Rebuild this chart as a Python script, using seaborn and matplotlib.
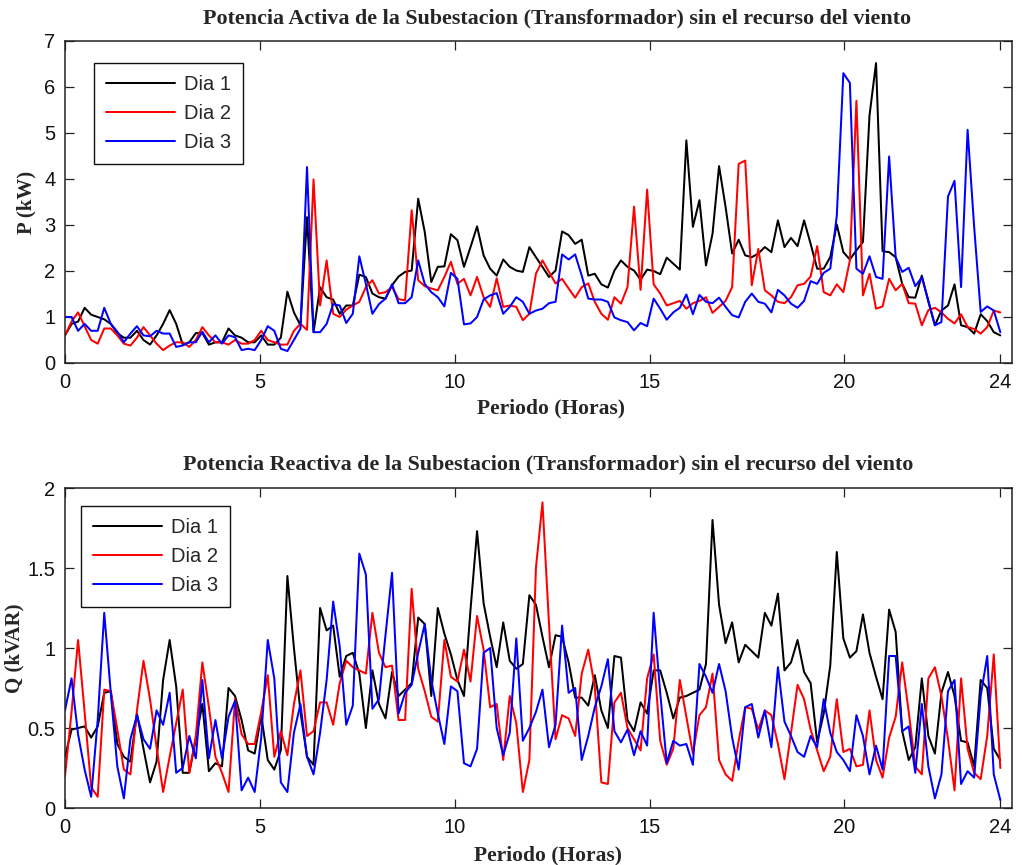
import numpy as np
import pandas as pd
import matplotlib
matplotlib.use("Agg")
import matplotlib.pyplot as plt
import seaborn as sns

# 144 samples across the day (hours)
horas = np.linspace(0, 24, 144)
dias = ["Dia 1", "Dia 2", "Dia 3"]
colores = {"Dia 1": "#000000", "Dia 2": "#ff0000", "Dia 3": "#0000ff"}

# Active power of the substation, kW
p_dia1 = [0.6, 0.85, 0.9, 1.2, 1.05, 1.0, 0.95, 0.85, 0.65, 0.55, 0.55, 0.7, 0.5, 0.4, 0.6, 0.85, 1.15, 0.85,
          0.4, 0.45, 0.65, 0.65, 0.4, 0.45, 0.45, 0.75, 0.6, 0.55, 0.45, 0.45, 0.6, 0.4, 0.4, 0.55, 1.55, 1.1,
          0.82, 3.17, 0.67, 1.65, 1.43, 1.38, 1.07, 1.25, 1.25, 1.92, 1.87, 1.51, 1.43, 1.4, 1.69, 1.88, 1.98, 2.01,
          3.57, 2.85, 1.76, 2.09, 2.1, 2.8, 2.67, 2.09, 2.52, 2.97, 2.34, 2.05, 1.9, 2.25, 2.09, 2.01, 1.98,
          2.52, 2.3, 2.09, 1.87, 2.01, 2.86, 2.78, 2.59, 2.68, 1.9, 1.94, 1.71, 1.64, 2.01, 2.23, 2.09, 2.01, 1.81,
          2.03, 2.0, 1.93, 2.29, 2.16, 2.03, 4.84, 2.96, 3.54, 2.12, 2.81, 4.28, 3.39, 2.38, 2.68, 2.34, 2.3, 2.38,
          2.52, 2.41, 3.1, 2.52, 2.72, 2.54, 3.1, 2.59, 2.05, 2.05, 2.3, 3.01, 2.41, 2.25, 2.45, 2.63, 5.38, 6.52,
          2.43, 2.41, 2.3, 1.72, 1.43, 1.42, 1.9, 1.33, 0.82, 1.14, 1.25, 1.71, 0.82, 0.78, 0.64, 1.06, 0.91, 0.67, 0.6]
p_dia2 = [0.6, 0.9, 1.1, 0.8, 0.5, 0.42, 0.75, 0.75, 0.6, 0.42, 0.38, 0.55, 0.78, 0.6, 0.42, 0.28, 0.38, 0.45,
          0.45, 0.35, 0.5, 0.78, 0.6, 0.45, 0.45, 0.4, 0.5, 0.42, 0.42, 0.5, 0.7, 0.5, 0.45, 0.4, 0.4, 0.7,
          0.85, 0.72, 3.99, 1.25, 2.23, 1.07, 1.0, 1.16, 1.25, 1.33, 1.65, 1.8, 1.51, 1.54, 1.65, 1.39, 1.36, 3.32,
          1.8, 1.67, 1.62, 1.58, 1.87, 2.2, 1.72, 1.83, 1.47, 1.87, 1.43, 1.22, 1.84, 1.22, 1.25, 1.22, 0.93,
          1.07, 1.94, 2.23, 1.98, 1.73, 1.83, 1.62, 1.42, 1.65, 1.73, 1.33, 1.07, 0.94, 1.43, 1.29, 1.65, 3.4, 1.59,
          3.77, 1.71, 1.51, 1.25, 1.3, 1.35, 1.18, 1.3, 1.35, 1.43, 1.09, 1.22, 1.35, 1.65, 4.33, 4.4, 1.69, 2.48,
          1.58, 1.47, 1.33, 1.3, 1.43, 1.69, 1.72, 1.88, 2.54, 1.54, 1.47, 1.71, 1.54, 2.23, 5.7, 1.47, 1.94, 1.18,
          1.23, 1.83, 1.58, 1.72, 1.3, 1.29, 0.82, 1.15, 1.2, 1.1, 0.96, 0.86, 1.06, 0.78, 0.74, 0.64, 0.78, 1.14, 1.1]
p_dia3 = [1.0, 1.0, 0.7, 0.85, 0.7, 0.7, 1.2, 0.85, 0.68, 0.45, 0.64, 0.8, 0.6, 0.58, 0.7, 0.64, 0.64, 0.35,
          0.38, 0.45, 0.45, 0.68, 0.45, 0.6, 0.42, 0.6, 0.56, 0.28, 0.31, 0.28, 0.5, 0.8, 0.7, 0.31, 0.26, 0.5,
          0.75, 4.26, 0.67, 0.67, 0.85, 1.28, 1.25, 0.87, 1.07, 2.32, 1.72, 1.07, 1.28, 1.4, 1.71, 1.3, 1.3, 1.43,
          2.23, 1.72, 1.54, 1.43, 1.23, 1.96, 1.83, 0.84, 0.86, 1.0, 1.38, 1.47, 1.52, 1.07, 1.22, 1.43, 1.33,
          1.07, 1.14, 1.18, 1.3, 1.33, 2.36, 2.25, 2.36, 1.9, 1.4, 1.38, 1.38, 1.33, 0.99, 0.93, 0.89, 0.71, 0.87,
          0.8, 1.4, 1.18, 0.94, 1.1, 1.2, 1.49, 1.06, 1.48, 1.33, 1.3, 1.42, 1.22, 1.04, 0.99, 1.33, 1.51, 1.33,
          1.29, 1.1, 1.59, 1.47, 1.29, 1.2, 1.35, 1.78, 1.72, 1.96, 2.05, 3.2, 6.3, 6.09, 2.05, 1.94, 2.32, 1.87,
          1.83, 4.49, 2.3, 1.98, 2.07, 1.67, 1.86, 1.36, 0.82, 0.89, 3.62, 3.96, 1.65, 5.07, 2.96, 1.11, 1.23, 1.14, 0.67]

# Reactive power of the substation, kVAR
q_dia1 = [0.32, 0.49, 0.5, 0.51, 0.44, 0.51, 0.72, 0.73, 0.4, 0.32, 0.29, 0.59, 0.37, 0.16, 0.29, 0.8, 1.05, 0.76,
          0.22, 0.22, 0.43, 0.65, 0.23, 0.28, 0.26, 0.75, 0.7, 0.55, 0.36, 0.34, 0.58, 0.3, 0.24, 0.36, 1.45, 1.0,
          0.6, 0.32, 0.27, 1.25, 1.11, 1.14, 0.82, 0.95, 0.97, 0.84, 0.5, 0.86, 0.65, 0.56, 0.85, 0.7, 0.74, 0.78,
          1.19, 1.15, 0.7, 1.25, 1.09, 0.96, 0.8, 0.7, 1.24, 1.73, 1.28, 1.07, 0.88, 1.16, 0.92, 0.87, 0.9,
          1.33, 1.27, 1.07, 0.88, 1.08, 1.07, 0.91, 0.69, 0.69, 0.64, 0.83, 0.61, 0.5, 0.95, 0.94, 0.55, 0.48, 0.66,
          0.59, 0.86, 0.86, 0.72, 0.56, 0.69, 0.7, 0.72, 0.74, 0.9, 1.8, 1.27, 1.03, 1.16, 0.91, 1.02, 0.98, 0.94,
          1.22, 1.14, 1.34, 0.86, 0.91, 1.05, 0.85, 0.78, 0.41, 0.59, 0.89, 1.6, 1.06, 0.94, 0.98, 1.21, 0.97, 0.82,
          0.68, 1.24, 1.1, 0.48, 0.3, 0.38, 0.81, 0.45, 0.34, 0.72, 0.85, 0.7, 0.42, 0.41, 0.26, 0.8, 0.75, 0.37, 0.3]
q_dia2 = [0.2, 0.6, 1.05, 0.6, 0.13, 0.07, 0.74, 0.73, 0.49, 0.24, 0.21, 0.61, 0.92, 0.68, 0.38, 0.1, 0.32, 0.53,
          0.74, 0.22, 0.45, 0.91, 0.63, 0.32, 0.22, 0.1, 0.68, 0.46, 0.4, 0.4, 0.6, 0.83, 0.32, 0.48, 0.33, 0.65,
          0.86, 0.45, 0.48, 0.66, 0.66, 0.52, 0.78, 0.92, 0.88, 0.86, 0.84, 1.22, 0.97, 0.88, 0.89, 0.55, 0.55, 1.37,
          0.87, 0.73, 0.57, 0.54, 1.05, 0.82, 0.79, 0.99, 0.79, 1.2, 0.99, 0.63, 0.65, 0.3, 0.7, 0.53, 0.1,
          0.3, 1.5, 1.91, 1.15, 0.43, 0.58, 0.56, 0.45, 0.84, 0.99, 0.76, 0.16, 0.15, 0.66, 0.72, 0.5, 0.43, 0.36,
          0.81, 0.96, 0.42, 0.27, 0.37, 0.8, 0.57, 0.34, 0.58, 0.63, 0.84, 0.3, 0.21, 0.17, 0.42, 0.63, 0.62, 0.49,
          0.61, 0.58, 0.4, 0.18, 0.47, 0.77, 0.68, 0.49, 0.36, 0.23, 0.32, 0.68, 0.35, 0.37, 0.26, 0.27, 0.61, 0.3,
          0.19, 0.44, 0.57, 0.91, 0.6, 0.26, 0.21, 0.81, 0.88, 0.7, 0.43, 0.11, 0.81, 0.37, 0.22, 0.18, 0.45, 0.96, 0.25]
q_dia3 = [0.61, 0.81, 0.46, 0.24, 0.07, 0.55, 1.22, 0.72, 0.26, 0.06, 0.43, 0.58, 0.43, 0.37, 0.61, 0.52, 0.72, 0.22,
          0.25, 0.45, 0.31, 0.8, 0.31, 0.55, 0.31, 0.57, 0.67, 0.11, 0.19, 0.1, 0.44, 1.05, 0.81, 0.16, 0.1, 0.47,
          0.65, 0.32, 0.21, 0.47, 0.8, 1.29, 1.01, 0.52, 0.64, 1.59, 1.46, 0.62, 0.68, 1.08, 1.47, 0.59, 0.72, 0.77,
          0.97, 1.15, 0.8, 0.59, 0.4, 0.76, 0.73, 0.28, 0.26, 0.37, 0.97, 1.0, 0.5, 0.33, 0.47, 1.06, 0.42,
          0.5, 0.6, 0.74, 0.38, 0.52, 1.14, 0.72, 0.75, 0.3, 0.45, 0.63, 0.76, 0.93, 0.48, 0.41, 0.49, 0.33, 0.48,
          0.39, 1.22, 0.72, 0.28, 0.42, 0.39, 0.4, 0.27, 0.9, 0.82, 0.72, 0.9, 0.73, 0.44, 0.24, 0.63, 0.65, 0.44,
          0.61, 0.38, 0.88, 0.54, 0.45, 0.35, 0.32, 0.45, 0.38, 0.68, 0.47, 0.35, 0.3, 0.23, 0.58, 0.45, 0.21, 0.39,
          0.24, 0.95, 0.95, 0.48, 0.51, 0.22, 0.65, 0.26, 0.06, 0.21, 0.73, 0.8, 0.15, 0.23, 0.19, 0.7, 0.95, 0.21, 0.05]

x_ticks = [0, 5, 10, 15, 20, 24]
p_ticks = [0, 1, 2, 3, 4, 5, 6, 7]
q_ticks = [0, 0.5, 1, 1.5, 2]
q_tick_labels = ["0", "0.5", "1", "1.5", "2"]

titulo_p = "Potencia Activa de la Subestacion (Transformador) sin el recurso del viento"
titulo_q = "Potencia Reactiva de la Subestacion (Transformador) sin el recurso del viento"


def tabla(series):
    frames = [pd.DataFrame({"hora": horas, "valor": v, "dia": d}) for d, v in zip(dias, series)]
    return pd.concat(frames, ignore_index=True)


sns.set_theme(style="ticks")
plt.rcParams["font.family"] = ["Liberation Sans", "DejaVu Sans"]
serif = dict(family=["Liberation Serif", "DejaVu Serif"], weight="bold")

W, H = 1022, 865
fig = plt.figure(figsize=(W / 100, H / 100), dpi=100)
ax_p = fig.add_axes([65 / W, 1 - 363 / H, 947 / W, 322 / H])
ax_q = fig.add_axes([65 / W, 1 - 808 / H, 947 / W, 320 / H])

paneles = [
    (ax_p, tabla([p_dia1, p_dia2, p_dia3]), (0, 7), p_ticks, None, titulo_p, "P (kW)",
     (557, 18), (551, 408), (26, 202), (94, 63)),
    (ax_q, tabla([q_dia1, q_dia2, q_dia3]), (0, 2), q_ticks, q_tick_labels, titulo_q, "Q (kVAR)",
     (548, 464), (548, 855), (14, 648), (81, 506)),
]

for ax, df, ylim, yt, ytl, titulo, ylab, tpos, xlpos, ylpos, legpos in paneles:
    sns.lineplot(data=df, x="hora", y="valor", hue="dia", palette=colores,
                 linewidth=1.45, errorbar=None, ax=ax)
    ax.set_xlim(0, 24.3)
    ax.set_ylim(*ylim)
    ax.set_xticks(x_ticks)
    ax.set_yticks(yt)
    if ytl is not None:
        ax.set_yticklabels(ytl)
    ax.tick_params(direction="in", top=True, right=True, length=6.5, width=0.9,
                   labelsize=14.5, pad=7, colors="#222222", labelcolor="#111111")
    for s in ax.spines.values():
        s.set_visible(True)
        s.set_linewidth(1.1)
        s.set_color("#222222")

    bb = ax.get_position()
    x0, y0 = bb.x0 * W, (1 - bb.y1) * H
    aw, ah = bb.width * W, bb.height * H

    ax.set_title(titulo, fontsize=15.8, x=(tpos[0] - x0) / aw, y=(y0 + ah - tpos[1]) / ah,
                 va="center", pad=0, **serif)
    ax.set_xlabel("Periodo (Horas)", fontsize=15.5, **serif)
    ax.xaxis.set_label_coords((xlpos[0] - x0) / aw, (y0 + ah - xlpos[1]) / ah)
    ax.xaxis.label.set_va("center")
    ax.set_ylabel(ylab, fontsize=15, **serif)
    ax.yaxis.set_label_coords((ylpos[0] - x0) / aw, (y0 + ah - ylpos[1]) / ah)
    ax.yaxis.label.set_va("center")

    handles, labels = ax.get_legend_handles_labels()
    leg = ax.legend(handles, labels, loc="upper left",
                    bbox_to_anchor=((legpos[0] - x0) / aw, (y0 + ah - legpos[1]) / ah),
                    frameon=True, fancybox=False, framealpha=1, edgecolor="#111111",
                    fontsize=14.5, handlelength=3.4, handletextpad=0.45,
                    labelspacing=0.5, borderpad=0.6, borderaxespad=0)
    leg.get_frame().set_linewidth(1.0)
    for ln in leg.get_lines():
        ln.set_linewidth(1.45)

fig.savefig("out.png", dpi=100)
